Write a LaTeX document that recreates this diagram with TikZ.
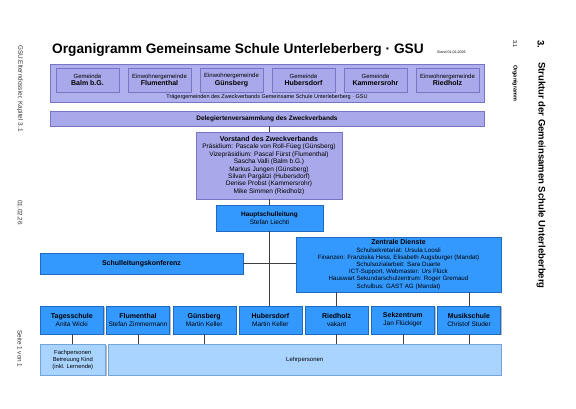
\documentclass[tikz,border=0pt]{standalone}
\usepackage{fontspec}
\setmainfont{Liberation Sans}
\usetikzlibrary{shadows}
\definecolor{lav}{RGB}{168,168,234}
\definecolor{lavouter}{RGB}{176,176,238}
\definecolor{lavdark}{RGB}{118,118,196}
\definecolor{bluebox}{RGB}{51,153,255}
\definecolor{bluedark}{RGB}{30,105,195}
\definecolor{lightblue}{RGB}{168,212,255}
\definecolor{lightbluedark}{RGB}{115,165,220}
\newcommand\myfs[2]{\fontsize{#1}{#2}\selectfont}
\tikzset{
  shadowed/.style={drop shadow={shadow xshift=1.2pt, shadow yshift=-1.2pt, opacity=0.45, fill=black!60}},
  lavbox/.style={shadowed, fill=lav, draw=lavdark, line width=0.4pt, inner sep=0pt, align=center},
  lavouterbox/.style={shadowed, fill=lavouter, draw=lavdark, line width=0.4pt, inner sep=0pt},
  bluebx/.style={shadowed, fill=bluebox, draw=bluedark, line width=0.4pt, inner sep=0pt, align=center},
  lbluebx/.style={shadowed, fill=lightblue, draw=lightbluedark, line width=0.4pt, inner sep=0pt, align=center},
  conn/.style={draw=black!75, line width=0.5pt},
  gem/.style={lavbox, minimum width=63pt, minimum height=24pt, font=\myfs{6}{7.5}},
  unit/.style={bluebx, minimum width=63pt, minimum height=28pt, font=\myfs{6.5}{8}},
  margintxt/.style={rotate=-90, anchor=west, inner sep=0pt, text=black!80},
}
\begin{document}
\begin{tikzpicture}[x=1pt,y=-1pt]
\useasboundingbox (0,0) rectangle (576,408);

% title
\node[anchor=base west, inner sep=0pt, font=\myfs{13.7}{16}\bfseries] (title) at (52,53) {Organigramm Gemeinsame Schule Unterleberberg · GSU};
\node[anchor=base west, inner sep=0pt, font=\myfs{3.6}{4}] (stand) at (437,53) {Stand 01.02.2026};

% margins
\node[margintxt, font=\myfs{6.4}{7}] (m1) at (20,45) {GSU.Elterndossier, Kapitel 3.1};
\node[margintxt, font=\myfs{6.4}{7}] (m2) at (20,200) {01.02.26};
\node[margintxt, font=\myfs{6.4}{7}] (m3) at (20,330) {Seite 1 von 1};
\node[margintxt, font=\myfs{9.5}{10}\bfseries, text=black] (r1) at (541,40) {3.};
\node[margintxt, font=\myfs{9.5}{10}\bfseries, text=black] (r2) at (541,62) {Struktur der Gemeinsamen Schule Unterleberberg};
\node[margintxt, font=\myfs{5.5}{6}, text=black] (r3) at (515,40) {3.1};
\node[margintxt, font=\myfs{5.5}{6}\bfseries, text=black] (r4) at (515,65) {Organigramm};

% Traegergemeinden
\node[lavouterbox, minimum width=434pt, minimum height=38pt] (traeger) at (267,83) {};
\node[inner sep=0pt, font=\myfs{5.5}{6}] (traegertxt) at (267,97.5) {Trägergemeinden des Zweckverbands Gemeinsame Schule Unterleberberg · GSU};
\node[gem] (balm) at (87.5,80) {Gemeinde\\{\myfs{7}{8}\bfseries Balm b.G.}};
\node[gem] (flu) at (159.5,80) {Einwohnergemeinde\\{\myfs{7}{8}\bfseries Flumenthal}};
\node[gem] (gun) at (231.5,80) {Einwohnergemeinde\\{\myfs{7}{8}\bfseries Günsberg}};
\node[gem] (hub) at (303.5,80) {Gemeinde\\{\myfs{7}{8}\bfseries Hubersdorf}};
\node[gem] (kam) at (375.5,80) {Gemeinde\\{\myfs{7}{8}\bfseries Kammersrohr}};
\node[gem] (rie) at (447.5,80) {Einwohnergemeinde\\{\myfs{7}{8}\bfseries Riedholz}};

% Delegiertenversammlung
\node[lavbox, minimum width=434pt, minimum height=15pt, font=\myfs{6.5}{7}\bfseries] (deleg) at (267,118.5) {Delegiertenversammlung des Zweckverbands};

% Vorstand
\node[lavbox, minimum width=146pt, minimum height=67pt, font=\myfs{6.5}{7.4}] (vorstand) at (269,165.5) {{\myfs{7}{7.4}\bfseries Vorstand des Zweckverbands}\\
Präsidium: Pascale von Roll-Füeg (Günsberg)\\
Vizepräsidium: Pascal Fürst (Flumenthal)\\
Sascha Valli (Balm b.G.)\\
Markus Jungen (Günsberg)\\
Silvan Pargätzi (Hubersdorf)\\
Denise Probst (Kammersrohr)\\
Mike Simmen (Riedholz)};

% Hauptschulleitung
\node[bluebx, minimum width=107pt, minimum height=26pt, font=\myfs{6.5}{8}] (hsl) at (269.5,218) {{\bfseries Hauptschulleitung}\\Stefan Liechti};

% Schulleitungskonferenz
\node[bluebx, minimum width=203pt, minimum height=21pt, font=\myfs{7}{8}\bfseries] (slk) at (141.5,263.5) {Schulleitungskonferenz};

% Zentrale Dienste
\node[bluebx, minimum width=205pt, minimum height=55pt, font=\myfs{6.2}{7.2}] (zd) at (398.5,264.5) {{\myfs{7}{7.2}\bfseries Zentrale Dienste}\\
Schulsekretariat: Ursula Loosli\\
Finanzen: Franziska Hess, Elisabeth Augsburger (Mandat)\\
Schulsozialarbeit: Sara Duarte\\
ICT-Support, Webmaster: Urs Flück\\
Hauswart Sekundarschulzentrum: Roger Gremaud\\
Schulbus: GAST AG (Mandat)};

% lower units
\node[unit] (tag) at (71.8,320) {{\bfseries\myfs{7}{8}Tagesschule}\\Anita Wicki};
\node[unit] (uflu) at (138,320) {{\bfseries\myfs{7}{8}Flumenthal}\\Stefan Zimmermann};
\node[unit] (ugun) at (204.2,320) {{\bfseries\myfs{7}{8}Günsberg}\\Martin Keller};
\node[unit] (uhub) at (270.4,320) {{\bfseries\myfs{7}{8}Hubersdorf}\\Martin Keller};
\node[unit] (urie) at (336.6,320) {{\bfseries\myfs{7}{8}Riedholz}\\vakant};
\node[unit] (usek) at (402.8,320) {{\bfseries\myfs{7}{8}Sekzentrum}\\Jan Flückiger};
\node[unit] (umus) at (469,320) {{\bfseries\myfs{7}{8}Musikschule}\\Christof Studer};

% bottom
\node[lbluebx, minimum width=65.5pt, minimum height=31pt, font=\myfs{5.8}{7}] (fach) at (72.75,359.5) {Fachpersonen\\Betreuung Kind\\(inkl. Lernende)};
\node[lbluebx, minimum width=392.5pt, minimum height=31pt, font=\myfs{6}{7}] (lehr) at (304.75,359.5) {Lehrpersonen};

% connectors
\draw[conn] (vorstand.north) -- (vorstand.north |- deleg.south);
\draw[conn] (hsl.north) -- (hsl.north |- vorstand.south);
\draw[conn] (hsl.south) -- (hsl.south |- uhub.north);
\draw[conn] (slk.east) -- (slk.east -| zd.west);
\draw[conn] (urie.north) -- (urie.north |- zd.south);
\draw[conn] (umus.north) -- (umus.north |- zd.south);
\draw[conn] (tag.south) -- (tag.south |- fach.north);
\draw[conn] (uflu.south) -- (uflu.south |- lehr.north);
\draw[conn] (ugun.south) -- (ugun.south |- lehr.north);
\draw[conn] (urie.south) -- (urie.south |- lehr.north);
\draw[conn] (usek.south) -- (usek.south |- lehr.north);
\draw[conn] (umus.south) -- (umus.south |- lehr.north);
\end{tikzpicture}
\end{document}
